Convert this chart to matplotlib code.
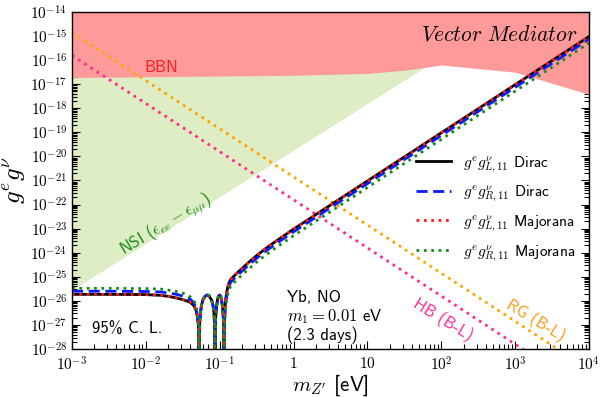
import numpy as np
import matplotlib
matplotlib.use('Agg')
import matplotlib.pyplot as plt
from matplotlib.ticker import FixedLocator, FixedFormatter, LogLocator, NullFormatter

plt.rcParams['mathtext.fontset'] = 'cm'
plt.rcParams['font.family'] = ['cmss10', 'DejaVu Sans']
plt.rcParams['axes.unicode_minus'] = False

# ---------------- data (log10 values) ----------------
log_m = np.array([-3.0, -2.5, -2.0, -1.8, -1.7, -1.6, -1.5, -1.45, -1.40, -1.35,
                  -1.32, -1.30, -1.29, -1.283, -1.28, -1.277, -1.27, -1.26, -1.25, -1.23,
                  -1.20, -1.17, -1.14, -1.11, -1.09, -1.08, -1.072, -1.067, -1.064, -1.061,
                  -1.055, -1.045, -1.03, -1.015, -1.003, -0.99, -0.975, -0.96, -0.95, -0.945,
                  -0.942, -0.939, -0.93, -0.92, -0.90, -0.88, -0.85, -0.80, -0.77, -0.70,
                  -0.60, -0.50, -0.40, -0.30, -0.20, -0.10, 0.0, 1.0, 2.0, 3.0, 4.0])

log_g_L_dirac = np.array([-25.73, -25.73, -25.74, -25.77, -25.81, -25.87, -25.95, -26.00, -26.06, -26.20,
                          -26.40, -26.70, -27.00, -27.60, -29.00, -27.60, -26.90, -26.50, -26.25, -25.98,
                          -25.82, -25.76, -25.82, -25.96, -26.20, -26.45, -26.80, -27.40, -29.00, -27.40,
                          -26.75, -26.30, -25.95, -25.80, -25.76, -25.80, -25.95, -26.30, -26.75, -27.40,
                          -29.00, -27.20, -26.40, -25.95, -25.55, -25.30, -25.10, -24.95, -24.86, -24.66,
                          -24.38, -24.12, -23.88, -23.655, -23.44, -23.23, -23.02, -21.02, -19.02, -17.02, -15.02])

log_g_R_dirac = np.array([-25.60, -25.60, -25.61, -25.63, -25.67, -25.72, -25.80, -25.86, -25.93, -26.08,
                          -26.30, -26.62, -26.95, -27.55, -29.00, -27.60, -26.90, -26.50, -26.24, -25.97,
                          -25.81, -25.75, -25.81, -25.95, -26.19, -26.44, -26.79, -27.40, -29.00, -27.40,
                          -26.75, -26.30, -25.95, -25.80, -25.76, -25.80, -25.96, -26.32, -26.78, -27.45,
                          -29.00, -27.40, -26.55, -26.10, -25.70, -25.43, -25.22, -25.06, -24.97, -24.77,
                          -24.49, -24.23, -23.99, -23.765, -23.55, -23.34, -23.13, -21.13, -19.13, -17.13, -15.13])

log_g_L_major = np.array([-25.73, -25.73, -25.74, -25.77, -25.81, -25.87, -25.95, -26.00, -26.06, -26.20,
                          -26.40, -26.70, -27.00, -27.60, -29.00, -27.60, -26.90, -26.50, -26.25, -25.98,
                          -25.82, -25.76, -25.82, -25.96, -26.20, -26.45, -26.80, -27.40, -29.00, -27.40,
                          -26.75, -26.30, -25.95, -25.80, -25.76, -25.80, -25.95, -26.30, -26.75, -27.40,
                          -29.00, -27.20, -26.40, -25.95, -25.55, -25.30, -25.10, -24.95, -24.86, -24.66,
                          -24.38, -24.12, -23.88, -23.655, -23.44, -23.23, -23.02, -21.02, -19.02, -17.02, -15.02])

log_g_R_major = np.array([-25.48, -25.48, -25.49, -25.51, -25.55, -25.60, -25.68, -25.75, -25.83, -25.98,
                          -26.20, -26.55, -26.90, -27.50, -29.00, -27.55, -26.85, -26.45, -26.20, -25.94,
                          -25.78, -25.72, -25.78, -25.92, -26.16, -26.40, -26.75, -27.35, -29.00, -27.35,
                          -26.70, -26.26, -25.92, -25.77, -25.73, -25.77, -25.95, -26.32, -26.80, -27.50,
                          -29.00, -27.60, -26.75, -26.25, -25.85, -25.57, -25.37, -25.22, -25.13, -24.93,
                          -24.65, -24.39, -24.15, -23.925, -23.71, -23.50, -23.29, -21.29, -19.29, -17.29, -15.29])

bbn_log_m = np.array([-3.0, 0.0, 1.0, 1.5, 1.85, 2.0, 3.0, 4.0])
bbn_log_g = np.array([-16.72, -16.63, -16.55, -16.42, -16.27, -16.20, -16.50, -17.42])

nsi_log_m = np.array([-3.0, 1.8])
nsi_log_g = np.array([-25.55, -16.25])

rg_log_m = np.array([-3.0, 4.0])
rg_log_g = np.array([-14.85, -28.85])

hb_log_m = np.array([-3.0, 4.0])
hb_log_g = np.array([-15.80, -29.80])

x_ticks = [1e-3, 1e-2, 1e-1, 1, 10, 1e2, 1e3, 1e4]
x_labels = [r'$10^{-3}$', r'$10^{-2}$', r'$10^{-1}$', r'$1$', r'$10$', r'$10^{2}$', r'$10^{3}$', r'$10^{4}$']
y_exps = list(range(-28, -13))
y_labels = [r'$10^{%d}$' % e for e in y_exps]

labels = [r'$g^e g^\nu_{L,11}$ Dirac', r'$g^e g^\nu_{R,11}$ Dirac',
          r'$g^e g^\nu_{L,11}$ Majorana', r'$g^e g^\nu_{R,11}$ Majorana']

# ---------------- figure ----------------
fig = plt.figure(figsize=(6.02, 3.97), dpi=100)
ax = fig.add_axes([72/602, 1-349/397, (589-72)/602, (349-12)/397])
ax.set_xscale('log')
ax.set_yscale('log')
ax.set_xlim(1e-3, 1e4)
ax.set_ylim(1e-28, 1e-14)

m = 10**log_m
# NSI region
ax.fill_between(10**nsi_log_m, 10**nsi_log_g, 1e-14, color='#deedc3', lw=0, zorder=1)
# BBN region
ax.fill_between(10**bbn_log_m, 10**bbn_log_g, 1e-14, color='#ff9a9a', lw=0, zorder=2)

ax.plot(10**rg_log_m, 10**rg_log_g, ls=':', color='#ffa500', lw=2.0, zorder=3)
ax.plot(10**hb_log_m, 10**hb_log_g, ls=':', color='#ff2d95', lw=2.0, zorder=3)

l1, = ax.plot(m, 10**log_g_L_dirac, '-', color='black', lw=2.0, zorder=5, label=labels[0])
l2, = ax.plot(m, 10**log_g_R_dirac, '--', color='#0a1aff', lw=2.0, dashes=(4, 2), zorder=6, label=labels[1])
l3, = ax.plot(m, 10**log_g_L_major, ':', color='#ff1a1a', lw=2.0, zorder=7, label=labels[2])
l4, = ax.plot(m, 10**log_g_R_major, ':', color='#1a8a1a', lw=2.0, zorder=7, label=labels[3])

leg = ax.legend(handles=[l1, l2, l3, l4], loc='upper left', bbox_to_anchor=((410-72)/517, 1-(148-12)/337),
                frameon=False, fontsize=11, handlelength=2.3, handletextpad=0.8, labelspacing=0.6,
                borderaxespad=0)

# ticks
ax.xaxis.set_major_locator(FixedLocator(x_ticks))
ax.xaxis.set_major_formatter(FixedFormatter(x_labels))
ax.xaxis.set_minor_locator(LogLocator(base=10, subs=np.arange(2, 10), numticks=100))
ax.xaxis.set_minor_formatter(NullFormatter())
ax.yaxis.set_major_locator(FixedLocator([10.0**e for e in y_exps]))
ax.yaxis.set_major_formatter(FixedFormatter(y_labels))
ax.yaxis.set_minor_locator(LogLocator(base=10, subs=np.arange(2, 10), numticks=100))
ax.yaxis.set_minor_formatter(NullFormatter())
ax.tick_params(which='both', direction='in', top=True, right=True, labelsize=11, width=0.8)
ax.tick_params(which='major', length=6)
ax.tick_params(which='minor', length=3.5)
ax.tick_params(axis='x', pad=5)
for s in ax.spines.values():
    s.set_linewidth(1.0)
    s.set_zorder(10)

fig.text(330/602, 1-385/397, r"$m_{Z'}$ [eV]", fontsize=15, ha='center', va='center')
ax.set_ylabel(r'$g^e g^\nu$', fontsize=18, labelpad=2)

# texts
ax.text(10**2.781, 10**-14.955, r'$\mathit{Vector\ Mediator}$', fontsize=15.5, ha='center', va='center', zorder=12)
ax.text(10**-1.786, 10**-16.31, 'BBN', color='#ff2020', fontsize=12, ha='center', va='center', zorder=12)
ax.text(10**-1.727, 10**-22.81, r'NSI ($\epsilon_{ee}-\epsilon_{\mu\mu}$)', color='#1a8a1a', fontsize=12,
        ha='center', va='center', rotation=31, zorder=12)
ax.text(10**2.023, 10**-26.80, 'HB (B-L)', color='#ff2d95', fontsize=12, ha='center', va='center',
        rotation=-31, zorder=12)
ax.text(10**3.282, 10**-26.80, 'RG (B-L)', color='#ff9a1a', fontsize=12, ha='center', va='center',
        rotation=-31, zorder=12)
ax.text(10**-2.249, 10**-27.17, '95% C. L.', fontsize=12, ha='center', va='center', zorder=12)
ax.text(10**-0.093, 10**-25.84, 'Yb, NO', fontsize=12, ha='left', va='center', zorder=12)
ax.text(10**-0.093, 10**-26.66, r'$m_1=0.01$ eV', fontsize=12, ha='left', va='center', zorder=12)
ax.text(10**-0.093, 10**-27.42, '(2.3 days)', fontsize=12, ha='left', va='center', zorder=12)

fig.savefig('out.png', dpi=100)
